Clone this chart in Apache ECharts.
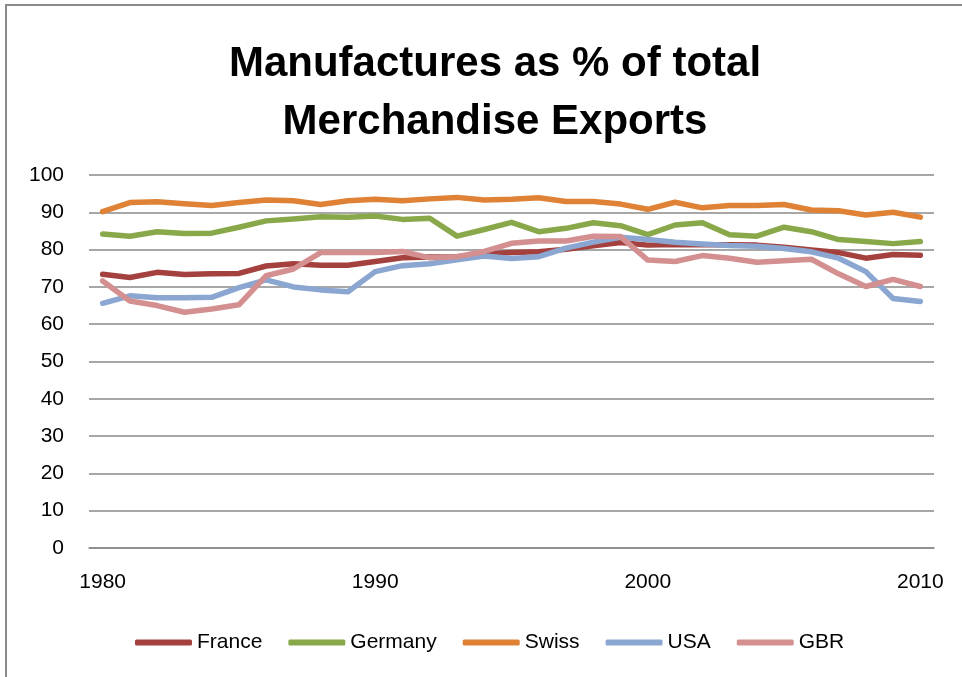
<!DOCTYPE html>
<html>
<head>
<meta charset="utf-8">
<title>Manufactures as % of total Merchandise Exports</title>
<script src="https://cdn.jsdelivr.net/npm/echarts@6/dist/echarts.min.js"></script>
<style>
  html, body { margin: 0; padding: 0; background: #ffffff; }
  #chart { width: 962px; height: 677px; }
</style>
</head>
<body>
<div id="chart"></div>
<script>
// Years shown on the category axis
const years = [];
for (let y = 1980; y <= 2010; y++) years.push(String(y));

// Manufactures as a share of total merchandise exports (%)
const france = [73.4, 72.5, 73.9, 73.3, 73.5, 73.6, 75.6, 76.2, 75.8, 75.8,
                76.8, 77.8, 78.0, 78.1, 78.8, 79.2, 79.4, 80.1, 81.0, 81.9,
                81.2, 81.4, 81.3, 81.3, 81.2, 80.6, 79.9, 79.2, 77.7, 78.7, 78.5];
const germany = [84.2, 83.6, 84.8, 84.3, 84.4, 86.0, 87.7, 88.2, 88.8, 88.7,
                 89.0, 88.1, 88.4, 83.6, 85.4, 87.3, 84.8, 85.7, 87.2, 86.4,
                 84.0, 86.6, 87.2, 84.0, 83.6, 86.0, 84.8, 82.7, 82.2, 81.6, 82.2];
const swiss = [90.2, 92.6, 92.8, 92.3, 91.8, 92.6, 93.3, 93.1, 92.1, 93.1,
               93.5, 93.1, 93.6, 94.0, 93.3, 93.5, 93.9, 92.9, 92.9, 92.2,
               90.8, 92.7, 91.2, 91.8, 91.8, 92.1, 90.6, 90.4, 89.3, 90.0, 88.7];
const usa = [65.6, 67.6, 67.1, 67.1, 67.2, 69.8, 71.9, 70.0, 69.2, 68.7,
             74.1, 75.7, 76.2, 77.3, 78.3, 77.6, 78.1, 80.4, 82.0, 83.3,
             82.7, 82.0, 81.5, 81.1, 80.9, 80.3, 79.4, 77.7, 74.1, 66.9, 66.1];
const gbr = [71.6, 66.2, 65.0, 63.2, 64.1, 65.2, 73.0, 74.8, 79.2, 79.2,
             79.2, 79.5, 77.8, 78.1, 79.5, 81.7, 82.3, 82.3, 83.6, 83.5,
             77.2, 76.8, 78.4, 77.7, 76.6, 77.0, 77.4, 73.5, 70.1, 72.0, 70.1];

const seriesNames = ['France', 'Germany', 'Swiss', 'USA', 'GBR'];
const seriesData = [france, germany, swiss, usa, gbr];
const seriesColors = ['#A4403D', '#89A84A', '#DF8236', '#8BA7D1', '#D49090'];

const FONT = '"Liberation Sans", Arial, sans-serif';

const chart = echarts.init(document.getElementById('chart'), null, { renderer: 'canvas' });

chart.setOption({
  backgroundColor: '#ffffff',
  animation: false,
  title: {
    text: 'Manufactures as % of total\nMerchandise Exports',
    left: 490,
    top: 30,
    textAlign: 'center',
    textStyle: {
      fontFamily: FONT,
      fontWeight: 'bold',
      fontSize: 42,
      lineHeight: 58,
      color: '#000000'
    }
  },
  legend: {
    data: seriesNames,
    left: 130,
    top: 627,
    icon: 'roundRect',
    itemWidth: 57,
    itemHeight: 6,
    itemGap: 26,
    textStyle: { fontFamily: FONT, fontSize: 21, color: '#000000' }
  },
  grid: { left: 89, right: 28, top: 175, bottom: 129, containLabel: false },
  xAxis: {
    type: 'category',
    data: years,
    boundaryGap: true,
    axisLine: { show: true, lineStyle: { color: '#8a8a8a', width: 1.5 } },
    axisTick: { show: false },
    axisLabel: {
      interval: 9,
      margin: 24,
      fontFamily: FONT,
      fontSize: 21,
      color: '#000000'
    },
    splitLine: { show: false }
  },
  yAxis: {
    type: 'value',
    min: 0,
    max: 100,
    interval: 10,
    axisLine: { show: false },
    axisTick: { show: false },
    axisLabel: {
      margin: 25,
      fontFamily: FONT,
      fontSize: 21,
      color: '#000000'
    },
    splitLine: { show: true, lineStyle: { color: '#8a8a8a', width: 1.5 } }
  },
  series: seriesNames.map((name, i) => ({
    name: name,
    type: 'line',
    data: seriesData[i],
    symbol: 'none',
    smooth: false,
    lineStyle: { color: seriesColors[i], width: 5.5, cap: 'round', join: 'round' },
    itemStyle: { color: seriesColors[i] }
  })),
  graphic: [{
    type: 'rect',
    shape: { x: 6, y: 5, width: 1000, height: 700 },
    style: { fill: 'none', stroke: '#8a8a8a', lineWidth: 2 },
    silent: true
  }]
});
</script>
</body>
</html>
